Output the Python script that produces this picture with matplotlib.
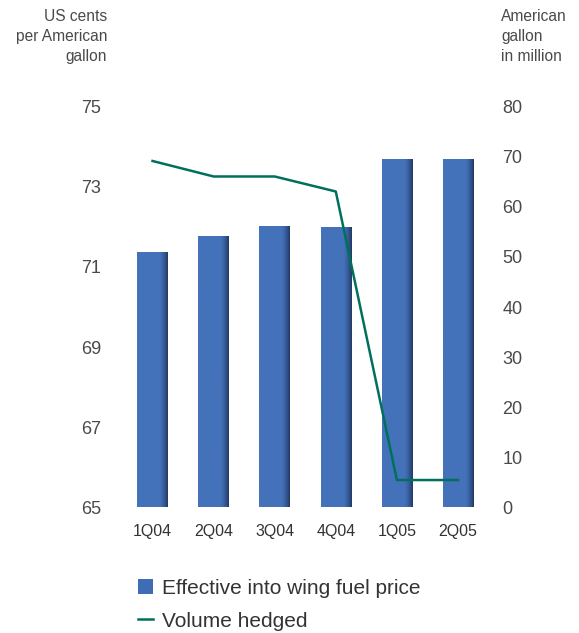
import matplotlib.pyplot as plt
import numpy as np
from matplotlib.lines import Line2D
from matplotlib.patches import Patch

# data
quarters = ['1Q04', '2Q04', '3Q04', '4Q04', '1Q05', '2Q05']
fuel_price = [71.37, 71.78, 72.02, 71.99, 73.69, 73.69]   # US cents per gallon (left axis)
volume_hedged = [69.2, 66.1, 66.1, 63.1, 5.4, 5.4]        # million gallon (right axis)
left_ticks = [65, 67, 69, 71, 73, 75]
right_ticks = [0, 10, 20, 30, 40, 50, 60, 70, 80]

plt.rcParams['font.family'] = ['Liberation Sans', 'DejaVu Sans']
txt = '#4a4a4a'
bar_col = '#3f6cb5'
line_col = '#00705c'

fig = plt.figure(figsize=(5.79, 6.33), dpi=100)
ax = fig.add_axes([0.2107, 0.199, 0.6330, 0.632])
x = np.arange(len(quarters))

bars = ax.bar(x, [v - 65 for v in fuel_price], width=0.5, bottom=65, color=bar_col, zorder=2)

# gradient fill clipped to each bar (darker right edge)
g = np.linspace(0, 1, 64)
shade = np.clip((g - 0.72) / 0.28, 0, 1) ** 1.5
base = np.array([0x44, 0x72, 0xba]) / 255
dark = np.array([0x22, 0x3a, 0x66]) / 255
cols = (base[None, :] * (1 - shade[:, None]) + dark[None, :] * shade[:, None])[None, :, :]
for b in bars:
    x0, y0 = b.get_x(), b.get_y()
    im = ax.imshow(cols, extent=[x0, x0 + b.get_width(), y0, y0 + b.get_height()],
                   aspect='auto', zorder=2.1)
    im.set_clip_path(b)

ax.set_xlim(-0.5, len(quarters) - 0.5)
ax.set_ylim(65, 75)
ax.set_yticks(left_ticks)
ax.set_xticks(x)
ax.set_xticklabels(quarters)
ax.tick_params(axis='y', length=0, pad=15, labelsize=13, labelcolor=txt)
ax.tick_params(axis='x', length=0, pad=12, labelsize=11.5, labelcolor='#333333')
for s in ax.spines.values():
    s.set_visible(False)

ax2 = ax.twinx()
ax2.plot(x, volume_hedged, color=line_col, lw=1.8, zorder=3)
ax2.set_ylim(0, 80)
ax2.set_yticks(right_ticks)
ax2.tick_params(axis='y', length=0, pad=10, labelsize=13, labelcolor=txt)
for s in ax2.spines.values():
    s.set_visible(False)

fig.text(107 / 579, 1 - 9 / 633, 'US cents\nper American\ngallon', ha='right', va='top',
         fontsize=11.2, color=txt, linespacing=1.42)
fig.text(501 / 579, 1 - 9 / 633, 'American\ngallon\nin million', ha='left', va='top',
         fontsize=11.2, color=txt, linespacing=1.42)

handles = [Patch(facecolor=bar_col, edgecolor='none'),
           Line2D([0], [0], color=line_col, lw=1.8)]
fig.legend(handles, ['Effective into wing fuel price', 'Volume hedged'],
           loc='upper left', bbox_to_anchor=(138 / 579, 1 - 579 / 633), frameon=False,
           fontsize=15, labelcolor='#333333', handlelength=0.7, handleheight=0.7,
           handletextpad=0.45, labelspacing=0.65, borderaxespad=0, borderpad=0)

fig.savefig('out.png', dpi=100)
